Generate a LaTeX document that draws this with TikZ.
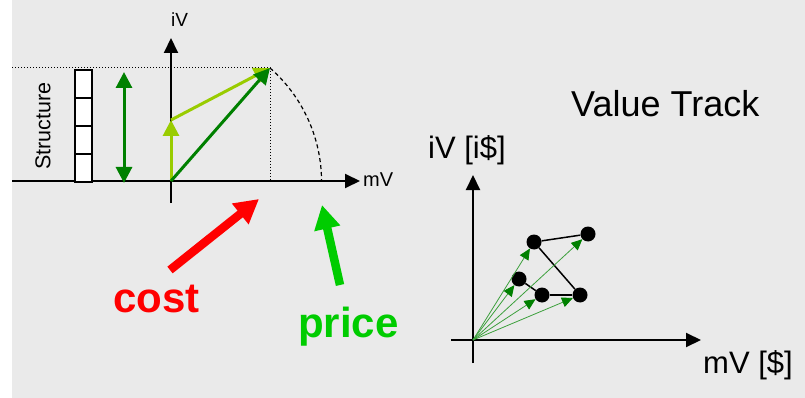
\documentclass[tikz,border=0pt]{standalone}
\usepackage{fontspec}
\setmainfont{Liberation Sans}
\usetikzlibrary{arrows.meta,positioning}
\definecolor{vtBack}{RGB}{234,234,234}
\definecolor{vtLime}{RGB}{153,204,0}
\definecolor{vtForest}{RGB}{0,128,0}
\definecolor{vtRed}{RGB}{255,0,0}
\definecolor{vtGreen}{RGB}{0,204,0}
\definecolor{vtThin}{RGB}{60,160,60}
\tikzset{
  vtaxis/.style={-{Triangle[length=15pt,width=14pt]},draw=black,line width=2pt},
  vtlabel/.style={font=\fontsize{#1}{#1}\selectfont,anchor=base west,inner sep=0pt},
  vtguide/.style={draw=black,line width=1pt,dash pattern=on 1pt off 2pt},
  vtcell/.style={draw=black,line width=1.5pt,fill=white},
  vtlime/.style={-{Triangle[length=16pt,width=16pt]},draw=vtLime,line width=3pt},
  vtforest/.style={-{Triangle[length=16pt,width=16pt]},draw=vtForest,line width=3pt},
  vtbig/.style={-{Triangle[length=24pt,width=25pt]},line width=8.5pt},
  vtword/.style={font=\bfseries\fontsize{42}{42}\selectfont,anchor=base west,inner sep=0pt},
  vtdot/.style={circle,fill=black,minimum size=15pt,inner sep=0pt},
  vtlink/.style={draw=black,line width=1.5pt},
  vtthin/.style={-{Triangle[length=11pt,width=10pt,color=vtForest]},draw=vtThin,line width=0.8pt},
}
\begin{document}
\begin{tikzpicture}[x=1pt,y=-1pt]
\useasboundingbox (0,0) rectangle (805,398);
\fill[vtBack] (12,0) rectangle (805,398);

% Left: cost and price of a structure.
\coordinate (O) at (171,181);
\coordinate (xstart) at (12,181);
\coordinate (xend) at (360,181);
\coordinate (ystart) at (171,203);
\coordinate (yend) at (171,38);
\coordinate (P) at (270,68);
\coordinate (L) at (171,120);
\coordinate (Pfoot) at (270,181);
\coordinate (guidestart) at (12,68);

\draw[vtguide] (guidestart) -- (P) -- (Pfoot);
\draw[black,line width=1.2pt,dash pattern=on 4pt off 3pt] (P) arc[start angle=-48.8,end angle=0,radius=151];
\draw[vtaxis] (xstart) -- (xend);
\draw[vtaxis] (ystart) -- (yend);
\node[vtlabel=20] (mv) at (363,186) {mV};
\node[vtlabel=19] (iv) at (171,27) {iV};

\foreach \i in {0,...,3}
  \draw[vtcell] (75,{70+28*\i}) rectangle +(17,28);
\node[rotate=90,font=\fontsize{21.5}{21.5}\selectfont,inner sep=0pt] (structure) at (43,126) {Structure};

\coordinate (spanlow) at (124,183);
\coordinate (spanhigh) at (124,72);
\draw[vtforest,{Triangle[length=16pt,width=16pt]}-{Triangle[length=16pt,width=16pt]}] (spanlow) -- (spanhigh);

\draw[vtlime] (O) -- (L);
\draw[vtlime] (L) -- (P);
\draw[vtforest] (O) -- (P);

\coordinate (costtail) at (170,270);
\coordinate (costtip) at (259,199);
\coordinate (pricetail) at (340,285);
\coordinate (pricetip) at (322,205);
\draw[vtbig,draw=vtRed,fill=vtRed] (costtail) -- (costtip);
\draw[vtbig,draw=vtGreen,fill=vtGreen] (pricetail) -- (pricetip);
\node[vtword,text=vtRed] (cost) at (113,312) {cost};
\node[vtword,text=vtGreen] (price) at (298,337) {price};

% Right: value track.
\node[vtlabel=36] (title) at (571,117) {Value Track};
\coordinate (R) at (473,340);
\coordinate (rxstart) at (451,340);
\coordinate (rxend) at (701,340);
\coordinate (rystart) at (473,363);
\coordinate (ryend) at (473,175);
\draw[vtaxis] (rxstart) -- (rxend);
\draw[vtaxis] (rystart) -- (ryend);
\node[vtlabel=31] (ivaxis) at (428,159) {iV [i\$]};
\node[vtlabel=31] (mvaxis) at (703,373) {mV [\$]};

\node[vtdot] (A) at (534,242) {};
\node[vtdot] (B) at (588,234) {};
\node[vtdot] (C) at (519,279) {};
\node[vtdot] (D) at (542,295) {};
\node[vtdot] (E) at (580,295) {};
\draw[vtlink] (A) -- (B);
\draw[vtlink] (A) -- (E);
\draw[vtlink] (C) -- (D);
\draw[vtlink] (D) -- (E);
\foreach \d in {A,B,C,D,E}
  \draw[vtthin] (R) -- (\d);
\end{tikzpicture}
\end{document}
